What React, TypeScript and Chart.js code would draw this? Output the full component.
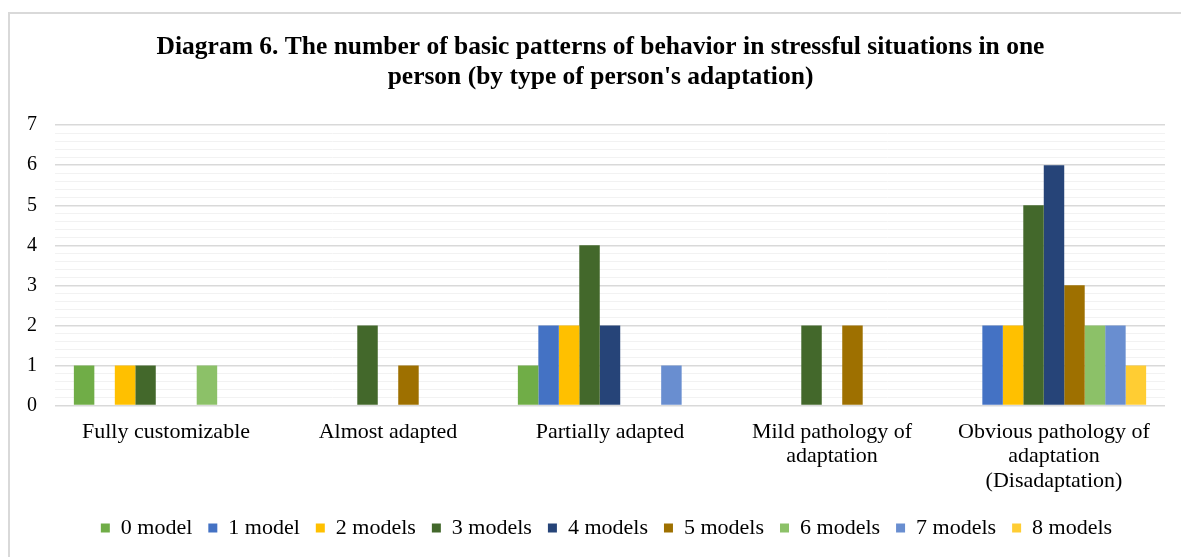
import React, { useEffect, useRef } from "react";
import { Chart, registerables } from "chart.js";

Chart.register(...registerables);

const categories: (string | string[])[] = [
  "Fully customizable",
  "Almost adapted",
  "Partially adapted",
  ["Mild pathology of", "adaptation"],
  ["Obvious pathology of", "adaptation", "(Disadaptation)"],
];

const seriesNames = [
  "0 model",
  "1 model",
  "2 models",
  "3 models",
  "4 models",
  "5 models",
  "6 models",
  "7 models",
  "8 models",
];

const model0 = [1, 0, 1, 0, 0];
const model1 = [0, 0, 2, 0, 2];
const model2 = [1, 0, 2, 0, 2];
const model3 = [1, 2, 4, 2, 5];
const model4 = [0, 0, 2, 0, 6];
const model5 = [0, 1, 0, 2, 3];
const model6 = [1, 0, 0, 0, 2];
const model7 = [0, 0, 1, 0, 2];
const model8 = [0, 0, 0, 0, 1];

const seriesValues = [model0, model1, model2, model3, model4, model5, model6, model7, model8];

const seriesColors = [
  "#70AD47",
  "#4472C4",
  "#FFC000",
  "#43682B",
  "#264478",
  "#9E7000",
  "#8CC168",
  "#698ED0",
  "#FFCD33",
];

const titleLines = [
  "Diagram 6. The number of basic patterns of behavior in stressful situations in one",
  "person (by type of person's adaptation)",
];

const FONT = "'Liberation Serif', 'Times New Roman', serif";

const framePlugin = {
  id: "frame",
  afterLayout(chart: any) {
    if (chart.titleBlock) {
      chart.titleBlock.left += 13;
      chart.titleBlock.right += 13;
    }
    if (chart.legend) {
      chart.legend.left += 19;
      chart.legend.right += 19;
    }
  },
  beforeDraw(chart: any) {
    const ctx = chart.ctx;
    ctx.save();
    ctx.fillStyle = "#ffffff";
    ctx.fillRect(0, 0, chart.width, chart.height);
    ctx.fillStyle = "#d9d9d9";
    ctx.fillRect(8, 12, 2, chart.height - 12);
    ctx.fillRect(8, 12, chart.width - 8, 2);
    ctx.restore();
  },
};

const isMajor = (v: number) => Math.abs(v - Math.round(v)) < 1e-6;

export default function App() {
  const ref = useRef<HTMLCanvasElement>(null);

  useEffect(() => {
    if (!ref.current) return;
    const chart = new Chart(ref.current, {
      type: "bar",
      data: {
        labels: categories,
        datasets: seriesNames.map((name, i) => ({
          label: name,
          data: seriesValues[i],
          backgroundColor: seriesColors[i],
          borderWidth: 0,
          barPercentage: 1,
          categoryPercentage: 0.83,
        })),
      },
      options: {
        animation: false,
        responsive: false,
        layout: { padding: { left: 10, right: 16, top: 32, bottom: 8 } },
        plugins: {
          title: {
            display: true,
            text: titleLines,
            color: "#000",
            font: { family: FONT, size: 25.5, weight: "bold", lineHeight: 1.18 },
            padding: { top: 0, bottom: 33 },
          },
          legend: {
            position: "bottom",
            labels: {
              boxWidth: 9,
              boxHeight: 9,
              padding: 16,
              color: "#000",
              font: { family: FONT, size: 22 },
            },
          },
          tooltip: { enabled: false },
        },
        scales: {
          x: {
            grid: { display: false, drawTicks: false },
            border: { display: false },
            afterFit(scale: any) {
              scale.height -= 6;
            },
            ticks: {
              color: "#000",
              font: { family: FONT, size: 22, lineHeight: 1.114 },
              maxRotation: 0,
              autoSkip: false,
              padding: 14,
            },
          },
          y: {
            min: 0,
            max: 7,
            border: { display: false },
            afterFit(scale: any) {
              scale.width = 45;
            },
            grid: {
              drawTicks: false,
              color: (c: any) => (isMajor(c.tick.value) ? "#d9d9d9" : "#f2f2f2"),
              lineWidth: (c: any) => (isMajor(c.tick.value) ? 1.5 : 1),
            },
            ticks: {
              stepSize: 0.2,
              autoSkip: false,
              padding: 18,
              color: "#000",
              font: { family: FONT, size: 20 },
              callback: (v: any) => (isMajor(Number(v)) ? String(Math.round(Number(v))) : ""),
            },
          },
        },
      },
      plugins: [framePlugin],
    });
    return () => chart.destroy();
  }, []);

  return (
    <canvas
      ref={ref}
      width={1181}
      height={557}
      style={{ position: "fixed", left: 0, top: 0, width: 1181, height: 557 }}
    />
  );
}
